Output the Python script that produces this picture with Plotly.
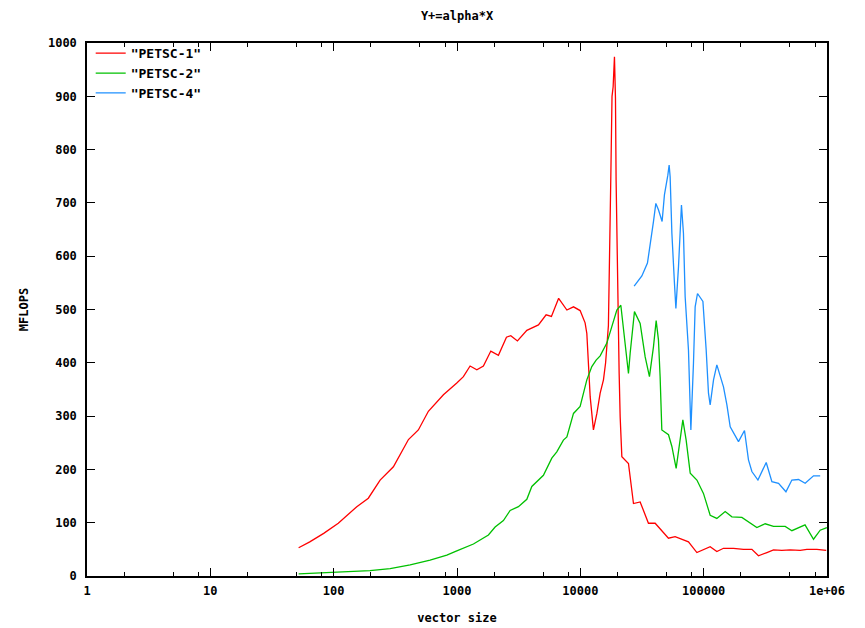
import plotly.graph_objects as go

# PETSC-1
x1 = [52, 64, 83, 109, 154, 191, 238, 305, 404, 486, 586, 776, 996, 1127, 1277, 1448, 1637,
      1880, 2167, 2518, 2730, 3090, 3683, 4574, 5279, 5830, 6670, 7780, 8800, 9960, 10930,
      11290, 12020, 12770, 13620, 14480, 15400, 16030, 16890, 17280, 17670, 18070, 18450,
      18910, 19270, 19500, 19880, 20260, 20640, 21030, 21710, 24560, 26970, 30550, 35660,
      40420, 51820, 58700, 75300, 88100, 99600, 112900, 127900, 144800, 174600, 210300,
      246000, 278200, 325700, 368400, 430600, 503100, 606300, 687000, 827600, 985700]
y1 = [53, 64, 80, 99, 130, 146, 180, 205, 256, 274, 309, 340, 362, 374, 394, 387, 394,
      422, 414, 448, 451, 441, 461, 471, 490, 487, 521, 499, 505, 498, 475,
      455, 336, 274, 305, 343, 368, 400, 470, 590, 750, 900, 918,
      974, 897, 743, 600, 505, 380, 299, 224, 211, 136, 139, 99,
      99, 71, 74, 64, 44, 49, 55, 46, 52, 52, 50,
      50, 38, 44, 49, 48, 49, 48, 50, 50, 48]

# PETSC-2
x2 = [52, 80, 136, 197, 287, 417, 605, 827, 996, 1359, 1798, 2037, 2378, 2697, 3148, 3683,
      4043, 5020, 5870, 6443, 7290, 7780, 8800, 9960, 11290, 12390, 13430, 14480, 16400,
      18000, 19770, 21300, 22370, 23830, 24560, 25350, 27470, 30550, 33550, 36340, 39170,
      41200, 42990, 44350, 45780, 51860, 55240, 59830, 63650, 67800, 72100, 77800, 88100,
      99600, 112900, 127900, 149400, 169400, 204100, 230800, 270000, 315300, 368400,
      458200, 519200, 663500, 777500, 880500, 997000]
y2 = [4, 6, 8, 10, 14, 21, 30, 39, 47, 60, 77, 92, 104, 123, 130, 144,
      168, 189, 221, 233, 255, 261, 305, 318, 368, 393, 405, 413, 437,
      468, 499, 508, 462, 411, 380, 418, 496, 474, 411, 374, 430,
      479, 443, 374, 274, 265, 243, 202, 249, 293, 255, 193, 180,
      155, 114, 108, 121, 111, 110, 102, 91, 98, 93,
      93, 85, 96, 69, 86, 91]

# PETSC-4
x4 = [27310, 31540, 35010, 36800, 39170, 40950, 42990, 46030, 48070, 51230, 52490, 53480,
      55240, 57970, 59540, 62500, 64460, 66060, 68560, 70790, 75300, 77800, 78740, 82660,
      85310, 89130, 98600, 104800, 109400, 112900, 120200, 127900, 144800, 154300, 164100,
      191600, 214300, 230800, 246000, 275400, 321400, 357500, 404600, 464600, 519200,
      587300, 665100, 777500, 880500]
y4 = [544, 563, 587, 618, 665, 699, 687, 665, 715, 752, 771, 749,
      643, 549, 502, 580, 655, 696, 643, 524, 424, 299, 274, 399,
      505, 530, 515, 424, 343, 321, 368, 396, 355, 321, 280,
      252, 273, 218, 196, 180, 213, 177, 174, 158, 180,
      181, 174, 188, 188]

series_names = ['"PETSC-1"', '"PETSC-2"', '"PETSC-4"']
series_colors = ["#ff0000", "#00c000", "#1e90ff"]

x_major = [1, 10, 100, 1000, 10000, 100000, 1000000]
x_major_text = ["1", "10", "100", "1000", "10000", "100000", "1e+06"]
x_minor = [m * d for d in [1, 10, 100, 1000, 10000, 100000] for m in (2, 5, 8)]
y_ticks = list(range(0, 1001, 100))

FONT = "DejaVu Sans Mono"

fig = go.Figure()
for xs, ys, name, col in zip([x1, x2, x4], [y1, y2, y4], series_names, series_colors):
    fig.add_trace(go.Scatter(x=xs, y=ys, mode="lines", name=name,
                             line=dict(color=col, width=1.3)))

fig.update_layout(
    width=865, height=628,
    margin=dict(l=87, r=38, t=43, b=52, autoexpand=False),
    paper_bgcolor="white", plot_bgcolor="white",
    font=dict(family=FONT, size=12, color="black", weight="bold"),
    title=dict(text="Y+=alpha*X", x=0.5, xref="paper", y=0.982, yanchor="top",
               font=dict(family=FONT, size=12, weight="bold")),
    showlegend=True,
    legend=dict(x=0.005, y=1.009, xanchor="left", yanchor="top",
                bgcolor="rgba(0,0,0,0)", borderwidth=0,
                font=dict(family=FONT, size=13, weight="bold"),
                tracegroupgap=0, itemwidth=30),
)

fig.update_xaxes(
    type="log", range=[0, 6], automargin=False,
    tickvals=x_major, ticktext=x_major_text,
    ticks="inside", ticklen=8, tickwidth=1.2, tickcolor="black",
    minor=dict(tickvals=x_minor, ticks="inside", ticklen=4, tickcolor="black", tickwidth=1),
    showline=True, linecolor="black", linewidth=1.5, mirror="allticks",
    showgrid=False, zeroline=False, ticklabelstandoff=3,
    title=dict(text="vector size", standoff=16, font=dict(family=FONT, size=12, weight="bold")),
    tickfont=dict(family=FONT, size=12, weight="bold"),
)
fig.update_yaxes(
    range=[0, 1000], tickvals=y_ticks, automargin=False,
    ticks="inside", ticklen=8, tickwidth=1.2, tickcolor="black",
    showline=True, linecolor="black", linewidth=1.5, mirror="allticks",
    showgrid=False, zeroline=False, ticklabelstandoff=6,
    title=dict(text="MFLOPS", standoff=17, font=dict(family=FONT, size=12, weight="bold")),
    tickfont=dict(family=FONT, size=12, weight="bold"),
)

fig.write_html("out.html")
